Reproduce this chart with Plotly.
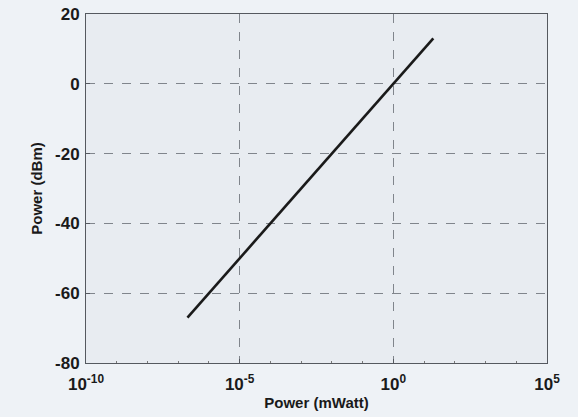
import plotly.graph_objects as go

# Data (line endpoints)
power_mw = [2e-7, 20]
power_dbm = [-67, 13]

x_tick_vals = [1e-10, 1e-5, 1e0, 1e5]
x_tick_text = ["10<sup>-10</sup>", "10<sup>-5</sup>", "10<sup>0</sup>", "10<sup>5</sup>"]
y_tick_vals = [-80, -60, -40, -20, 0, 20]
y_tick_text = ["-80", "-60", "-40", "-20", "0", "20"]

FAM = "Liberation Sans, Arial, sans-serif"

fig = go.Figure()
fig.add_trace(go.Scatter(x=power_mw, y=power_dbm, mode="lines",
                         line=dict(color="#1a1a1a", width=2.6), showlegend=False))

fig.update_layout(
    width=578, height=417,
    margin=dict(l=86, r=31, t=14, b=54),
    paper_bgcolor="#eef2f6",
    plot_bgcolor="#e8ecf1",
    font=dict(family=FAM, size=16, color="#1a1a1a"),
    xaxis=dict(type="log", range=[-10, 5], tickvals=x_tick_vals, ticktext=x_tick_text,
               automargin=False,
               showgrid=True, gridcolor="#80858c", griddash="dash", gridwidth=1,
               zeroline=False, showline=True, linecolor="#55595f", linewidth=1, mirror=True,
               ticks="inside", ticklen=4, tickcolor="#55595f", ticklabelstandoff=6,
               minor=dict(ticks="inside", ticklen=2, tickcolor="#777", showgrid=False),
               tickfont=dict(family=FAM, size=17, color="#1a1a1a", weight="bold"),
               title=dict(text="Power (mWatt)", standoff=4,
                          font=dict(family=FAM, size=15, color="#1a1a1a", weight="bold"))),
    yaxis=dict(range=[-80, 20], tickvals=y_tick_vals, ticktext=y_tick_text,
               automargin=False,
               showgrid=True, gridcolor="#80858c", griddash="dash", gridwidth=1,
               zeroline=False, showline=True, linecolor="#55595f", linewidth=1, mirror=True,
               ticks="inside", ticklen=4, tickcolor="#55595f", ticklabelstandoff=2,
               tickfont=dict(family=FAM, size=17, color="#1a1a1a", weight="bold"),
               title=dict(text="Power (dBm)", standoff=8,
                          font=dict(family=FAM, size=15, color="#1a1a1a", weight="bold"))),
)

fig.write_html("out.html")
